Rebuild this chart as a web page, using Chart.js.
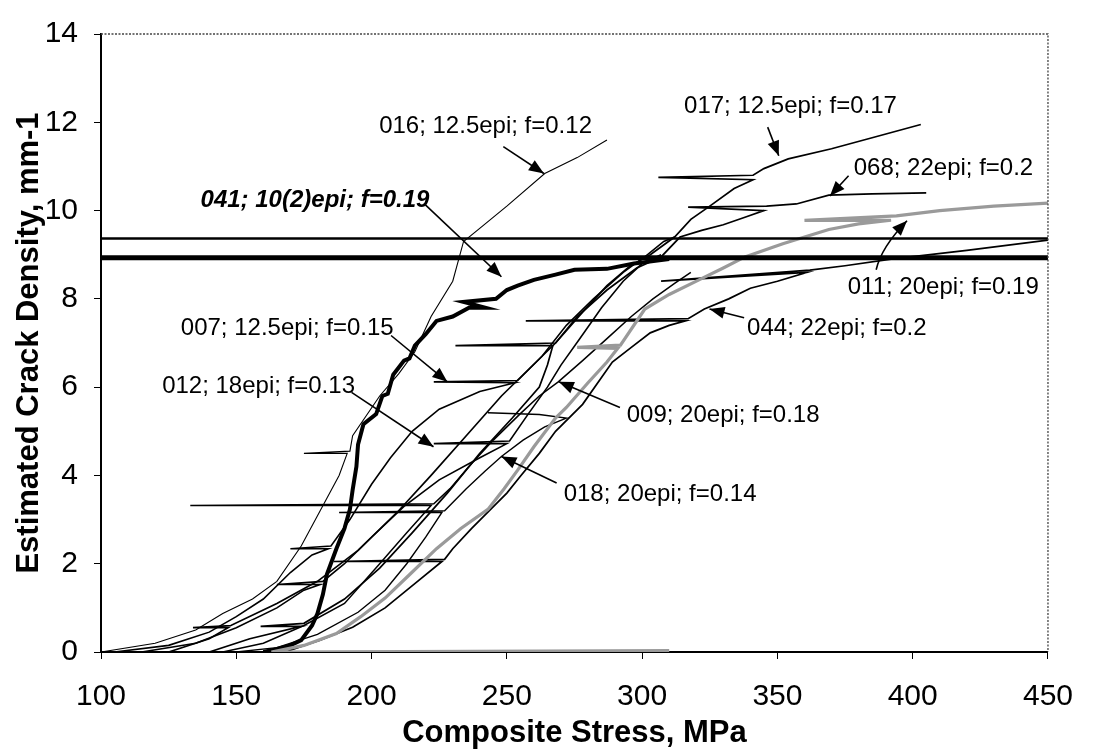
<!DOCTYPE html>
<html>
<head>
<meta charset="utf-8">
<script src="https://cdn.jsdelivr.net/npm/chart.js@4.4.1/dist/chart.umd.min.js"></script>
<style>
  html, body { margin: 0; padding: 0; background: #fff; }
  #wrap { width: 1093px; height: 756px; }
</style>
</head>
<body>
<div id="wrap"><canvas id="chart" width="1093" height="756"></canvas></div>
<script>
// crack density curves, [composite stress MPa, crack density 1/mm]
var c016 = [[100,0],[120,0.2],[135,0.5],[145,0.87],[156,1.2],[165,1.6],[174,2.4],[181,3.2],[188,4.0],[191,4.5],[175,4.5],[192,4.55],[193,4.9],[203,5.8],[210,6.3],[216,6.8],[222,7.6],[230,8.4],[234,9.3],[242,9.7],[250,10.1],[264,10.84],[276,11.2],[287,11.6]];
var c041 = [[160,0],[164,0.05],[170,0.15],[174,0.27],[178,0.6],[180,0.87],[182,1.3],[183.5,1.76],[187,2.34],[190,2.8],[192,3.23],[193,3.67],[194.4,4.2],[195,4.7],[197,5.16],[201.7,5.39],[204,5.8],[206,5.85],[208,6.28],[212,6.6],[214,6.65],[216,6.94],[220,7.2],[224,7.5],[230,7.6],[236,7.8],[242,7.8],[234,7.93],[246,8.0],[250,8.2],[254,8.3],[260,8.43],[268,8.55],[275,8.66],[287,8.68],[297,8.8],[310,8.9]];
var c007 = [[105,0],[125,0.15],[140,0.45],[150,0.8],[160,1.2],[170,1.8],[178,2.2],[184,2.34],[170,2.34],[185,2.4],[192,3.0],[200,3.8],[207,4.4],[215,5.0],[225,5.5],[240,5.9],[253,6.1],[223,6.12],[254,6.15],[263,6.7],[272,7.4],[282,8.0],[293,8.6],[302,9.0],[308,9.3],[312,9.4]];
var c012 = [[115,0],[135,0.2],[150,0.55],[165,1.0],[175,1.4],[181,1.53],[165,1.53],[182,1.6],[190,2.0],[200,2.6],[212,3.3],[225,3.9],[240,4.4],[250,4.72],[223,4.72],[251,4.78],[258,5.4],[265,6.0],[270,6.5],[277,7.1],[285,7.8],[293,8.4],[300,8.8],[307,9.0]];
var c017 = [[125,0],[140,0.3],[147,0.55],[134,0.55],[148,0.6],[165,1.1],[180,1.6],[195,2.3],[210,3.2],[222,4.0],[235,4.9],[248,5.8],[258,6.4],[268,7.0],[278,7.7],[287,8.3],[295,8.72],[303,9.0],[312,9.4],[318,9.8],[325,10.1],[334,10.5],[341,10.7],[306,10.75],[341,10.8],[345,10.95],[354,11.17],[370,11.4],[385,11.65],[403,11.95]];
var c068 = [[140,0],[155,0.3],[174,0.58],[159,0.58],[175,0.65],[190,1.2],[203,1.9],[215,2.7],[228,3.6],[240,4.5],[252,5.3],[262,6.0],[265,6.5],[267,6.94],[231,6.94],[268,7.0],[276,7.6],[287,8.2],[298,8.7],[307,8.95],[314,9.4],[322,9.55],[330,9.68],[338,9.85],[345,10.0],[317,10.08],[346,10.1],[357,10.15],[369,10.35],[385,10.38],[405,10.4]];
var c011 = [[310,0.03],[163,0],[175,0.15],[187,0.42],[196,0.8],[205,1.22],[214,1.75],[224,2.34],[233,2.8],[243,3.23],[249,3.7],[254,4.12],[260,4.65],[268,5.3],[272,5.54],[280,6.1],[287,6.57],[291,6.88],[276,6.9],[292,6.95],[301,7.77],[310,8.1],[321,8.43],[330,8.7],[338,8.95],[352,9.25],[369,9.57],[380,9.7],[392,9.78],[360,9.78],[394,9.88],[410,10.0],[430,10.1],[450,10.17]];
var c044 = [[168,0],[181,0.27],[193,0.56],[205,1.0],[217,1.6],[226,2.05],[186,2.05],[227,2.1],[230,2.34],[237,2.8],[244,3.23],[250,3.6],[255,3.98],[262,4.5],[268,5.0],[278,5.61],[289,6.57],[296,6.9],[303,7.23],[310,7.4],[316,7.5],[257,7.5],[317,7.55],[323,7.77],[332,8.0],[340,8.24],[350,8.4],[361,8.6],[307,8.4],[362,8.65],[375,8.75],[392,8.9],[420,9.1],[450,9.33]];
var c009 = [[145,0],[160,0.2],[175,0.6],[190,1.1],[203,2.0],[213,2.7],[222,3.32],[133,3.32],[223,3.36],[229,3.7],[236,4.2],[245,4.8],[255,5.4],[262,5.8],[269,6.12],[278,6.6],[287,7.1],[296,7.6],[304,8.0],[312,8.35],[318,8.6]];
var c018 = [[150,0],[165,0.1],[180,0.4],[195,0.9],[205,1.4],[213,2.0],[220,2.6],[226,3.16],[188,3.16],[227,3.2],[235,3.7],[242,4.1],[248,4.43],[256,4.8],[264,5.1],[272,5.3],[262,5.38],[243,5.42]];
var satThin = [[100,9.37],[450,9.37]];
var satThick = [[100,8.93],[450,8.93]];

// callouts: text, text start, arrow tail, arrow head (data units)
var noteText = ['016; 12.5epi; f=0.12', '017; 12.5epi; f=0.17', '068; 22epi; f=0.2', '011; 20epi; f=0.19',
                '044; 22epi; f=0.2', '009; 20epi; f=0.18', '018; 20epi; f=0.14', '007; 12.5epi; f=0.15',
                '012; 18epi; f=0.13', '041; 10(2)epi; f=0.19'];
var notePos = [[202.8,11.91],[315.5,12.35],[378.2,10.95],[376,8.26],[338.8,7.32],[294.3,5.36],[271,3.56],[129.5,7.32],[122.6,6.01],[136.8,10.22]];
var arrowTail = [[248.7,11.45],[346.4,11.89],[376.3,10.79],[386.5,8.66],[337.7,7.57],[291.8,5.54],[268.4,3.83],[207.2,7.17],[192.6,5.88],[219.9,10.13]];
var arrowHead = [[263.7,10.84],[350.5,11.24],[369.4,10.33],[397.9,9.77],[324.9,7.77],[269.2,6.12],[248,4.43],[228,6.12],[222.9,4.65],[248,8.5]];
var arrowBend = [null,null,null,[388.4,9.17],null,null,null,null,null,null];

var FONT = '"Liberation Sans", Arial, Helvetica, sans-serif';
Chart.defaults.color = '#000';
Chart.defaults.font.family = FONT;

function pts(arr) {
    return arr.map(function(p){ return {x: p[0], y: p[1]}; });
}
function curve(arr, w, col) {
    return {data: pts(arr), showLine: true, borderColor: col, borderWidth: w,
            pointRadius: 0, pointHoverRadius: 0, fill: false, tension: 0};
}

var frame = {
    id: 'frame',
    afterDatasetsDraw: function(chart) {
        var ctx = chart.ctx, a = chart.chartArea;
        var sx = chart.scales.x, sy = chart.scales.y;
        ctx.save();
        // dotted top and right border
        ctx.strokeStyle = '#444';
        ctx.lineWidth = 1.3;
        ctx.setLineDash([2, 1.5]);
        ctx.beginPath();
        ctx.moveTo(a.left, a.top); ctx.lineTo(a.right, a.top); ctx.lineTo(a.right, a.bottom);
        ctx.stroke();
        ctx.setLineDash([]);

        // callouts
        ctx.fillStyle = '#000';
        ctx.strokeStyle = '#000';
        ctx.lineWidth = 1.6;
        ctx.textBaseline = 'middle';
        ctx.textAlign = 'left';
        for (var i = 0; i < noteText.length; i++) {
            ctx.font = (i == 9 ? 'italic bold ' : '') + '24px ' + FONT;
            ctx.fillText(noteText[i], sx.getPixelForValue(notePos[i][0]), sy.getPixelForValue(notePos[i][1]));

            var x0 = sx.getPixelForValue(arrowTail[i][0]), y0 = sy.getPixelForValue(arrowTail[i][1]);
            var x1 = sx.getPixelForValue(arrowHead[i][0]), y1 = sy.getPixelForValue(arrowHead[i][1]);
            var fx = x0, fy = y0;
            ctx.beginPath();
            ctx.moveTo(x0, y0);
            if (arrowBend[i]) {
                fx = sx.getPixelForValue(arrowBend[i][0]);
                fy = sy.getPixelForValue(arrowBend[i][1]);
                ctx.quadraticCurveTo(fx, fy, x1, y1);
            } else {
                ctx.lineTo(x1, y1);
            }
            ctx.stroke();
            var ang = Math.atan2(y1 - fy, x1 - fx);
            var len = 15, half = 6;
            ctx.beginPath();
            ctx.moveTo(x1, y1);
            ctx.lineTo(x1 - len * Math.cos(ang) + half * Math.sin(ang), y1 - len * Math.sin(ang) - half * Math.cos(ang));
            ctx.lineTo(x1 - len * Math.cos(ang) - half * Math.sin(ang), y1 - len * Math.sin(ang) + half * Math.cos(ang));
            ctx.closePath();
            ctx.fill();
        }
        ctx.restore();
    }
};

var ctx = document.getElementById('chart');
var myChart = new Chart(ctx, {
    type: 'scatter',
    data: {
        datasets: [
            curve(satThin, 2.5, '#000'),
            curve(satThick, 5, '#000'),
            curve(c011, 3.2, '#9a9a9a'),
            curve(c016, 1.1, '#000'),
            curve(c007, 1.6, '#000'),
            curve(c012, 1.6, '#000'),
            curve(c017, 1.7, '#000'),
            curve(c068, 1.7, '#000'),
            curve(c044, 1.7, '#000'),
            curve(c009, 1.5, '#000'),
            curve(c018, 1.4, '#000'),
            curve(c041, 4, '#000')
        ]
    },
    options: {
        responsive: false,
        animation: false,
        devicePixelRatio: 1,
        layout: { padding: { top: 24, right: 32, left: 0, bottom: 0 } },
        plugins: { legend: { display: false }, tooltip: { enabled: false } },
        scales: {
            x: {
                type: 'linear', min: 100, max: 450,
                ticks: { stepSize: 50, padding: 20, font: { size: 30 }, color: '#000', maxRotation: 0 },
                grid: { drawOnChartArea: false, drawTicks: true, tickLength: 7, color: '#000' },
                border: { color: '#000', width: 2 },
                title: { display: true, text: 'Composite Stress, MPa', font: { size: 31, weight: 'bold' }, padding: { top: 0, bottom: 4 } },
                afterFit: function(s) { s.height = 104; }
            },
            y: {
                type: 'linear', min: 0, max: 14,
                ticks: { stepSize: 2, padding: 16, font: { size: 30 }, color: '#000' },
                grid: { drawOnChartArea: false, drawTicks: true, tickLength: 7, color: '#000' },
                border: { color: '#000', width: 2 },
                title: { display: true, text: 'Estimated Crack Density, mm-1', font: { size: 31, weight: 'bold' }, padding: { top: 11, bottom: 0 } },
                afterFit: function(s) { s.width = 101; }
            }
        }
    },
    plugins: [frame]
});
</script>
</body>
</html>
